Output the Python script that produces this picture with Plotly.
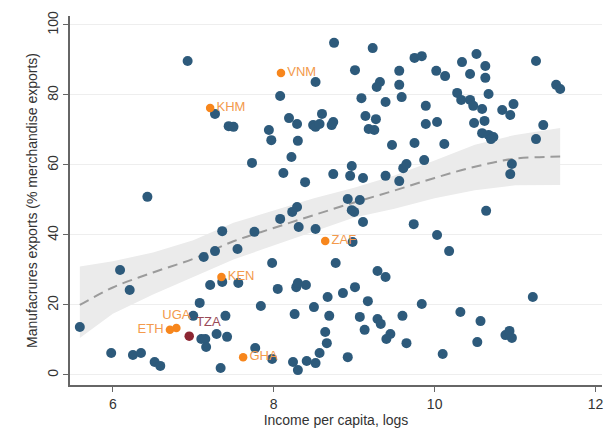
import plotly.graph_objects as go

# Countries: log income per capita vs manufactures share of merchandise exports
income = [5.59, 6.09, 6.21, 5.98, 6.25, 6.35, 6.52, 6.59, 6.43, 6.93,
          7.36, 7.13, 7.27, 7.55, 7.21, 7.36, 7.56, 7.98, 8.05, 8.28,
          7.08, 7.84, 8.26, 7.00, 7.40, 7.10, 7.15, 7.16, 7.29, 7.42,
          7.77, 7.98, 7.34, 8.24, 8.30, 8.30, 8.40, 8.67, 8.86, 9.01,
          9.17, 8.50, 8.69, 9.07, 9.29, 9.33, 9.60, 9.84, 8.64, 8.66,
          9.13, 9.45, 9.40, 9.65, 8.41, 8.52, 8.57, 8.92, 7.73, 8.22,
          8.12, 8.39, 8.74, 8.97, 8.95, 9.11, 9.39, 9.56, 9.61, 9.65,
          8.92, 9.07, 8.97, 9.00, 9.11, 9.74, 8.29, 8.23, 8.08, 8.31,
          8.52, 7.76, 8.98, 8.77, 9.29, 9.39, 8.75, 9.23, 9.75, 9.84,
          9.01, 9.56, 8.52, 9.32, 9.28, 9.56, 8.08, 9.09, 9.39, 9.59,
          7.27, 7.44, 7.50, 8.60, 8.19, 8.29, 8.49, 8.52, 8.57, 8.74,
          8.72, 9.14, 9.27, 9.18, 9.25, 7.94, 7.97, 8.30, 9.47, 9.75,
          10.02, 10.13, 10.34, 10.52, 10.63, 10.44, 10.63, 10.28, 10.33, 10.44,
          10.48, 10.67, 10.59, 10.84, 10.94, 10.98, 11.26, 11.51, 11.56, 9.89,
          9.89, 10.03, 10.49, 10.62, 10.59, 10.67, 10.73, 10.70, 11.35, 11.26,
          10.12, 9.87, 10.96, 10.94, 10.64, 10.03, 10.18, 11.22, 10.32, 10.57,
          10.53, 10.88, 10.93, 10.96, 10.10]
manuf = [13.7, 30.0, 24.3, 6.3, 5.7, 6.3, 3.7, 2.6, 50.9, 89.7,
         41.1, 33.7, 35.4, 36.0, 25.7, 26.6, 26.3, 32.0, 24.6, 25.1,
         20.6, 19.7, 17.4, 16.9, 16.9, 10.3, 10.3, 8.0, 11.7, 10.9,
         7.7, 4.6, 2.0, 3.7, 1.4, 26.3, 25.7, 22.3, 23.4, 25.1,
         21.1, 19.4, 16.9, 16.6, 16.0, 14.6, 16.9, 20.3, 12.3, 9.1,
         12.9, 11.7, 10.3, 9.1, 4.0, 3.4, 6.3, 5.1, 60.6, 62.3,
         57.7, 55.1, 57.4, 59.7, 56.9, 56.3, 56.9, 55.4, 59.1, 60.3,
         50.3, 50.0, 47.1, 46.6, 43.7, 43.1, 48.0, 46.6, 44.6, 42.3,
         41.7, 40.9, 38.0, 32.0, 29.7, 28.0, 94.9, 93.4, 90.6, 91.1,
         87.1, 86.9, 83.7, 83.7, 82.3, 82.9, 79.7, 79.1, 78.0, 79.4,
         74.6, 71.1, 70.9, 74.6, 73.4, 71.7, 71.4, 70.9, 71.7, 72.3,
         71.4, 74.0, 73.1, 70.3, 70.0, 70.0, 67.1, 66.9, 65.7, 66.3,
         86.9, 85.4, 89.4, 91.7, 88.3, 86.0, 84.9, 80.6, 78.6, 78.6,
         76.9, 80.3, 76.0, 75.7, 74.3, 77.4, 89.7, 82.9, 81.7, 76.9,
         71.7, 72.3, 72.0, 72.6, 69.1, 68.6, 68.0, 67.4, 71.4, 67.4,
         66.0, 61.4, 60.3, 57.4, 46.9, 40.0, 35.4, 22.3, 18.0, 15.4,
         9.4, 11.4, 12.6, 10.6, 6.0]

# Highlighted economies
hl_codes = ["VNM", "KHM", "ZAF", "KEN", "UGA", "ETH", "GHA"]
hl_income = [8.09, 7.21, 8.64, 7.35, 6.79, 6.71, 7.62]
hl_manuf = [86.3, 76.3, 38.3, 28.0, 13.4, 12.9, 5.1]
hl_textpos = ["middle right", "middle right", "middle right", "middle right",
              "top center", "middle left", "middle right"]

tza_code = ["TZA"]
tza_income = [6.95]
tza_manuf = [11.1]

# Fractional-polynomial fit with 95% confidence band
fit_x = [5.59, 6.0, 6.5, 7.0, 7.5, 8.0, 8.5, 9.0, 9.5, 10.0, 10.5, 11.0, 11.56]
fit_y = [20.0, 25.0, 29.3, 33.2, 38.2, 42.0, 45.7, 49.3, 52.7, 56.3, 59.5, 61.8, 62.4]
ci_hi = [31.0, 32.5, 35.0, 38.5, 43.5, 47.0, 50.5, 53.5, 57.0, 61.3, 65.8, 68.6, 70.6]
ci_lo = [10.6, 17.5, 23.0, 28.0, 33.0, 37.0, 41.0, 45.0, 47.5, 50.5, 52.8, 54.2, 54.3]

BLUE = "#2d5a7b"
ORANGE = "#f7861c"
ORANGE_TXT = "#f39a4c"
MAROON = "#8c2632"
FONT = "Liberation Sans, Arial, sans-serif"

fig = go.Figure()

fig.add_trace(go.Scatter(
    x=fit_x + fit_x[::-1], y=ci_hi + ci_lo[::-1],
    fill="toself", fillcolor="#ebebeb", line=dict(width=0),
    mode="lines", hoverinfo="skip"))

fig.add_trace(go.Scatter(
    x=fit_x, y=fit_y, mode="lines",
    line=dict(color="#9b9b9b", width=2, dash="10px,6px", shape="spline")))

fig.add_trace(go.Scatter(
    x=income, y=manuf, mode="markers",
    marker=dict(color=BLUE, size=10, line=dict(width=0))))

fig.add_trace(go.Scatter(
    x=hl_income, y=hl_manuf, mode="markers+text",
    text=hl_codes, textposition=hl_textpos,
    textfont=dict(family=FONT, size=13, color=ORANGE_TXT),
    marker=dict(color=ORANGE, size=8.5, line=dict(width=0))))

fig.add_trace(go.Scatter(
    x=tza_income, y=tza_manuf, mode="markers+text",
    text=tza_code, textposition="top right",
    textfont=dict(family=FONT, size=13, color="#9a4a57"),
    marker=dict(color=MAROON, size=9.5, line=dict(width=0))))

fig.update_layout(
    width=608, height=439,
    margin=dict(l=70, r=4, t=16, b=54),
    paper_bgcolor="white", plot_bgcolor="white",
    showlegend=False,
    font=dict(family=FONT, size=14, color="#333333"),
    xaxis=dict(
        range=[5.468, 12.08], tickvals=[6, 8, 10, 12],
        showline=True, linecolor="#666666", linewidth=1.5,
        ticks="outside", ticklen=5, tickcolor="#666666", tickwidth=1.2,
        showgrid=False, zeroline=False,
        tickfont=dict(size=14, color="#333333"),
        title=dict(text="Income per capita, logs", standoff=2,
                   font=dict(size=14, color="#333333"))),
    yaxis=dict(
        range=[-2.86, 102.57], tickvals=[0, 20, 40, 60, 80, 100],
        tickangle=-90,
        showline=True, linecolor="#666666", linewidth=1.5,
        ticks="outside", ticklen=5, tickcolor="#666666", tickwidth=1.2,
        showgrid=True, gridcolor="#eeeeee", gridwidth=1, zeroline=False,
        tickfont=dict(size=14, color="#333333"),
        title=dict(text="Manufacrures exports (% merchandise exports)",
                   standoff=4, font=dict(size=14, color="#333333"))),
)

fig.write_html("out.html")
